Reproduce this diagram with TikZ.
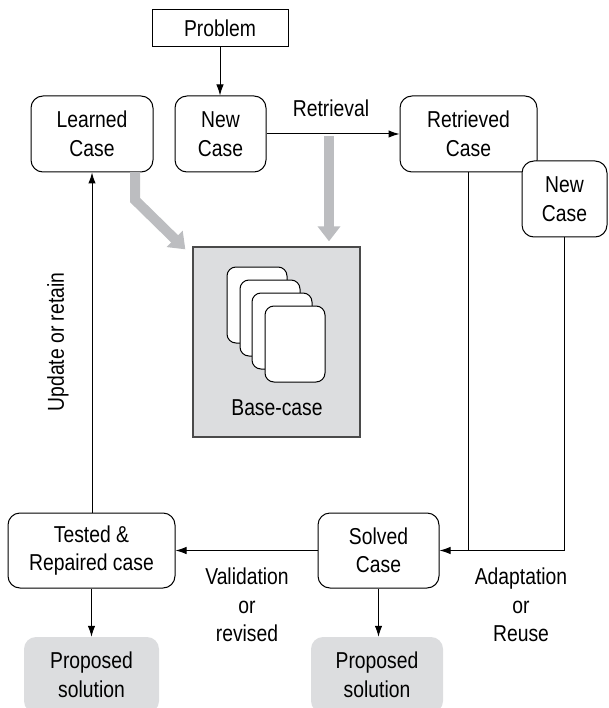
\documentclass[tikz,border=0pt]{standalone}
\usepackage{fontspec}
\setmainfont{Liberation Sans}[FakeStretch=0.84]
\usetikzlibrary{arrows.meta}
\definecolor{arrgray}{HTML}{BCBDC0}
\definecolor{boxgray}{HTML}{DCDDDF}
\definecolor{basegray}{HTML}{DCDDDF}
\definecolor{baseedge}{HTML}{4A4A4A}
\begin{document}
\begin{tikzpicture}[x=1pt,y=-1pt,
 every node/.style={font=\fontsize{23}{28.5}\selectfont, align=center, inner sep=0pt},
 rbox/.style={draw, line width=1pt, rounded corners=12pt, fill=white},
 sbox/.style={draw, line width=1pt, fill=white},
 arr/.style={line width=1pt, -{Latex[length=11pt,width=7.5pt]}},
 ln/.style={line width=1pt},
 grayarr/.style={draw=arrgray, line width=10pt, -{Triangle[length=15pt,width=22pt]}, line join=miter},
 card/.style={draw, line width=1pt, fill=white, rounded corners=9pt, minimum width=60pt, minimum height=76pt},
 propbox/.style={fill=boxgray, rounded corners=12pt, minimum height=76pt}
]
\useasboundingbox (0,0) rectangle (609,708);

% boxes
\node[sbox, minimum width=136pt, minimum height=37pt] (problem) at (220,28.5) {Problem};
\node[rbox, minimum width=122pt, minimum height=76pt] (learned) at (92,134) {Learned\\Case};
\node[rbox, minimum width=91pt, minimum height=76pt] (newcase) at (220.5,134) {New\\Case};
\node[rbox, minimum width=137pt, minimum height=76pt] (retrieved) at (468.5,134) {Retrieved\\Case};
\node[rbox, minimum width=85pt, minimum height=76pt] (newcase2) at (564.5,199) {New\\Case};
\node[rbox, minimum width=167pt, minimum height=75pt] (tested) at (91.5,550.5) {Tested \&\\Repaired case};
\node[rbox, minimum width=121pt, minimum height=75pt] (solved) at (378.5,550.5) {Solved\\Case};

% base-case
\node[draw=baseedge, fill=basegray, line width=1.3pt, minimum width=167pt, minimum height=190pt] (base) at (276.5,342) {};
\node[card] (c1) at (257,305) {};
\node[card] (c2) at (270,318) {};
\node[card] (c3) at (282,331) {};
\node[card] (c4) at (295,344) {};
\node (basetxt) at (277,408) {Base-case};

% proposed solutions
\begin{scope}
\clip (0,0) rectangle (609,708);
\node[propbox, minimum width=135pt] (prop1) at (91.5,675) {Proposed\\solution};
\node[propbox, minimum width=132pt] (prop2) at (377,675) {Proposed\\solution};
\end{scope}

% labels
\node (retrlbl) at (331,108) {Retrieval};
\node[rotate=90] (updlbl) at (58,342) {Update or retain};
\node (vallbl) at (247,605) {Validation\\or\\revised};
\node (adplbl) at (521,605) {Adaptation\\or\\Reuse};

% gray arrows
\coordinate (g1s) at (135,172);
\coordinate (g1m) at (135,200);
\draw[grayarr] (g1s) -- (g1m) -- ([shift={(-7,3)}]base.north west);
\coordinate (g2s) at (329,136);
\draw[grayarr, shorten >=5pt] (g2s) -- (g2s |- base.north);

% connectors
\draw[arr] (problem.south) -- (newcase.north -| problem.south);
\draw[arr] (newcase.east) -- (retrieved.west);
\draw[ln] (retrieved.south) -- (retrieved.south |- solved.east);
\draw[arr] (newcase2.south) |- (solved.east);
\draw[arr] (solved.west) -- (tested.east);
\draw[arr] (tested.north -| learned.south) -- (learned.south);
\draw[arr] (tested.south) -- (prop1.north);
\draw[arr] (solved.south) -- (solved.south |- prop2.north);
\end{tikzpicture}
\end{document}
